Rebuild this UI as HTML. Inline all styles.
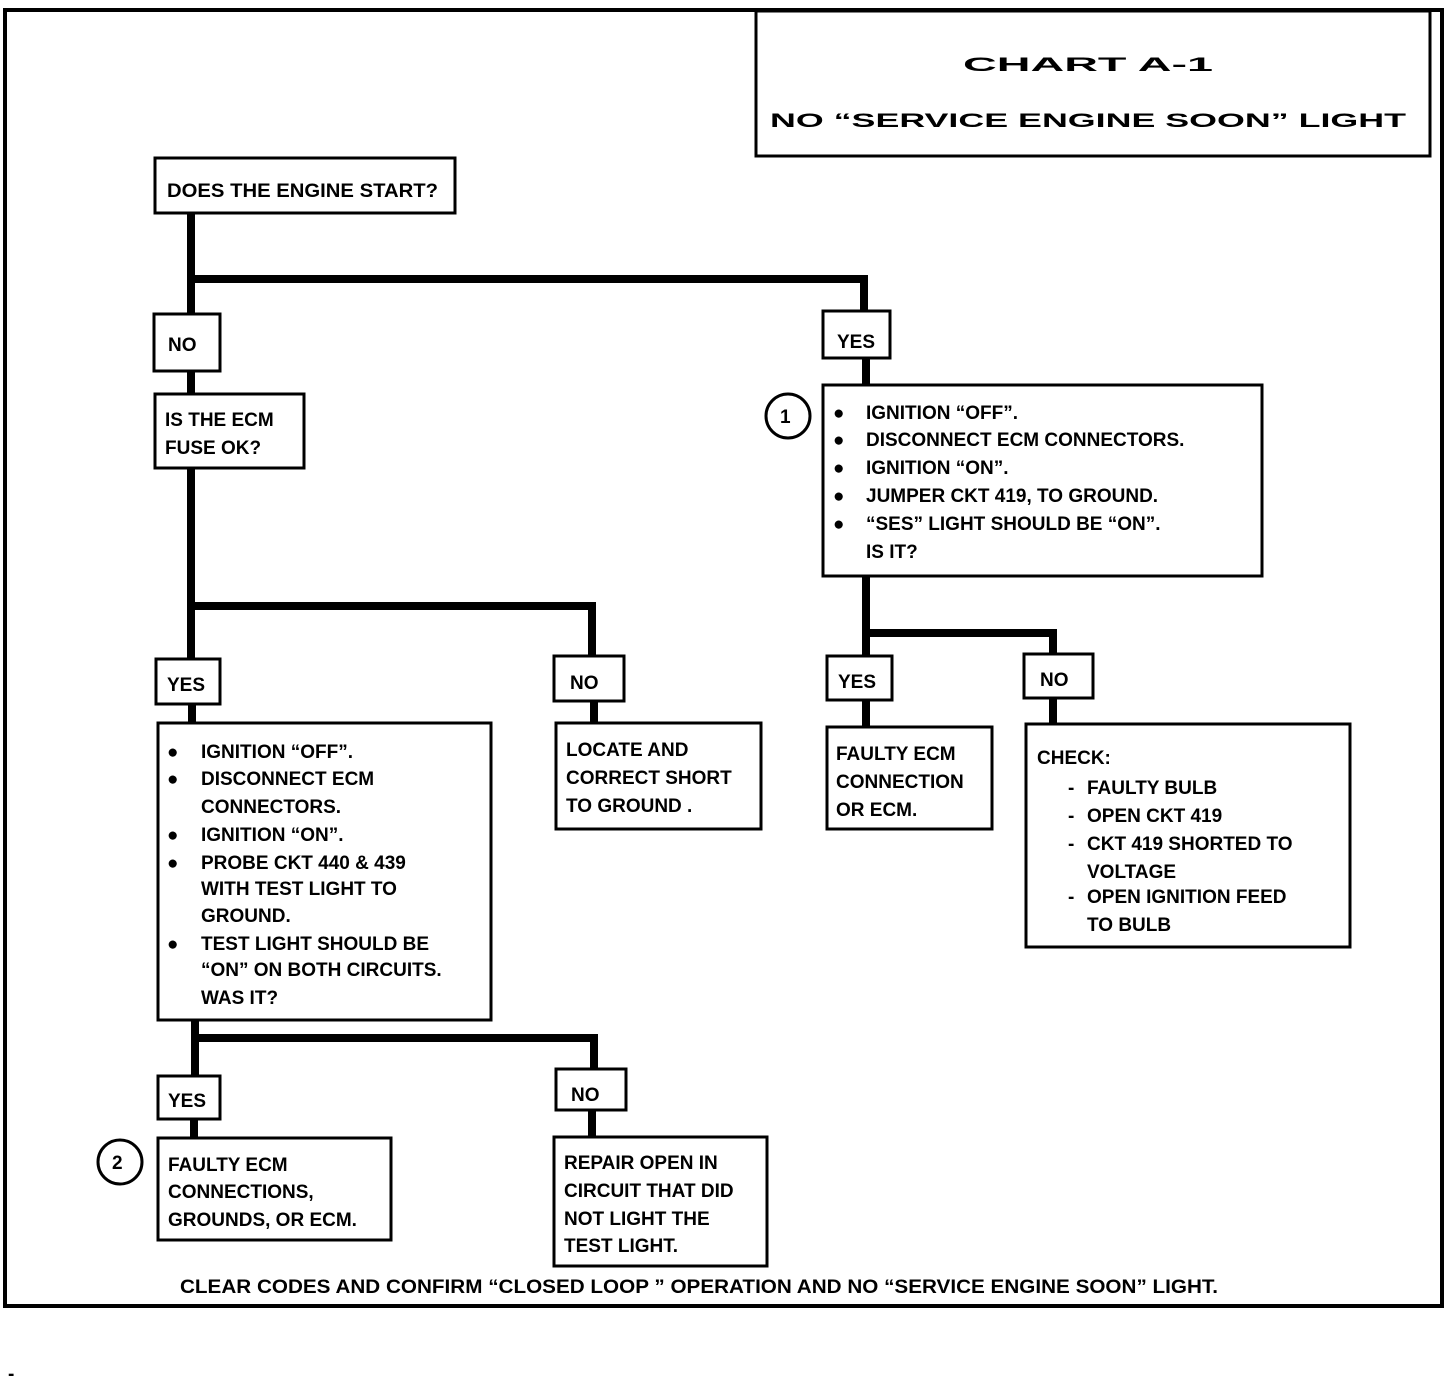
<!DOCTYPE html>
<html><head><meta charset="utf-8"><style>
html,body{margin:0;padding:0;background:#fff;}
svg{display:block;}
text{font-family:"Liberation Sans",sans-serif;font-weight:bold;fill:#000;font-size:19px;}
</style></head><body>
<svg width="1456" height="1378" viewBox="0 0 1456 1378" xmlns="http://www.w3.org/2000/svg">
<g fill="none" stroke="#000">
<rect x="5" y="10" width="1437" height="1296" stroke-width="4"/>
<rect x="756" y="11" width="674" height="145" stroke-width="3"/>
<!-- connectors -->
<g stroke-width="8">
<line x1="191" y1="214" x2="191" y2="314"/>
<line x1="187" y1="279" x2="868" y2="279"/>
<line x1="864" y1="275" x2="864" y2="311"/>
<line x1="191" y1="371" x2="191" y2="394"/>
<line x1="191" y1="468" x2="191" y2="659"/>
<line x1="187" y1="606" x2="596" y2="606"/>
<line x1="592" y1="602" x2="592" y2="656"/>
<line x1="192" y1="704" x2="192" y2="723"/>
<line x1="594" y1="701" x2="594" y2="723"/>
<line x1="195" y1="1020" x2="195" y2="1076"/>
<line x1="191" y1="1038" x2="598" y2="1038"/>
<line x1="594" y1="1034" x2="594" y2="1069"/>
<line x1="194" y1="1119" x2="194" y2="1138"/>
<line x1="592" y1="1110" x2="592" y2="1137"/>
<line x1="866" y1="358" x2="866" y2="385"/>
<line x1="866" y1="576" x2="866" y2="656"/>
<line x1="862" y1="633" x2="1057" y2="633"/>
<line x1="1053" y1="629" x2="1053" y2="654"/>
<line x1="866" y1="700" x2="866" y2="727"/>
<line x1="1053" y1="698" x2="1053" y2="724"/>
</g>
<!-- boxes -->
<g stroke-width="3" fill="#fff">
<rect x="155" y="158" width="300" height="55"/>
<rect x="154" y="314" width="66" height="57"/>
<rect x="155" y="394" width="149" height="74"/>
<rect x="156" y="659" width="64" height="45"/>
<rect x="158" y="723" width="333" height="297"/>
<rect x="554" y="656" width="70" height="45"/>
<rect x="556" y="723" width="205" height="106"/>
<rect x="158" y="1076" width="62" height="43"/>
<rect x="158" y="1138" width="233" height="102"/>
<rect x="556" y="1069" width="70" height="41"/>
<rect x="554" y="1137" width="213" height="129"/>
<rect x="823" y="311" width="67" height="47"/>
<rect x="823" y="385" width="439" height="191"/>
<rect x="827" y="656" width="65" height="44"/>
<rect x="827" y="727" width="165" height="102"/>
<rect x="1024" y="654" width="69" height="44"/>
<rect x="1026" y="724" width="324" height="223"/>
</g>
<circle cx="788" cy="416" r="22" stroke-width="3" fill="#fff"/>
<circle cx="120" cy="1162" r="22" stroke-width="3" fill="#fff"/>
</g>
<text x="963" y="71" font-size="48" textLength="250" lengthAdjust="spacingAndGlyphs">CHART A-1</text>
<text x="770" y="127" font-size="38" textLength="636" lengthAdjust="spacingAndGlyphs">NO “SERVICE ENGINE SOON” LIGHT</text>
<text x="780" y="423" font-size="20">1</text>
<text x="112" y="1169" font-size="20">2</text>

<text x="167" y="197" textLength="271" lengthAdjust="spacingAndGlyphs">DOES THE ENGINE START?</text>
<text x="168" y="351">NO</text>
<text x="165" y="426">IS THE ECM</text>
<text x="165" y="454">FUSE OK?</text>
<text x="167" y="691">YES</text>
<g>
<text x="167" y="758">●</text><text x="201" y="758">IGNITION “OFF”.</text>
<text x="167" y="785">●</text><text x="201" y="785">DISCONNECT ECM</text>
<text x="201" y="813">CONNECTORS.</text>
<text x="167" y="841">●</text><text x="201" y="841">IGNITION “ON”.</text>
<text x="167" y="869">●</text><text x="201" y="869">PROBE CKT 440 &amp; 439</text>
<text x="201" y="895">WITH TEST LIGHT TO</text>
<text x="201" y="922">GROUND.</text>
<text x="167" y="950">●</text><text x="201" y="950">TEST LIGHT  SHOULD BE</text>
<text x="201" y="976">“ON” ON BOTH CIRCUITS.</text>
<text x="201" y="1004">WAS IT?</text>
</g>
<text x="570" y="689">NO</text>
<text x="566" y="756">LOCATE  AND</text>
<text x="566" y="784">CORRECT SHORT</text>
<text x="566" y="812">TO GROUND .</text>
<text x="168" y="1107">YES</text>
<text x="571" y="1101">NO</text>
<text x="168" y="1171">FAULTY ECM</text>
<text x="168" y="1198">CONNECTIONS,</text>
<text x="168" y="1226">GROUNDS, OR ECM.</text>
<text x="564" y="1169">REPAIR OPEN IN</text>
<text x="564" y="1197">CIRCUIT THAT DID</text>
<text x="564" y="1225">NOT LIGHT THE</text>
<text x="564" y="1252">TEST LIGHT.</text>
<text x="837" y="348">YES</text>
<g>
<text x="833" y="419">●</text><text x="866" y="419">IGNITION “OFF”.</text>
<text x="833" y="446">●</text><text x="866" y="446">DISCONNECT ECM CONNECTORS.</text>
<text x="833" y="474">●</text><text x="866" y="474">IGNITION “ON”.</text>
<text x="833" y="502">●</text><text x="866" y="502">JUMPER CKT 419,  TO GROUND.</text>
<text x="833" y="530">●</text><text x="866" y="530">“SES” LIGHT  SHOULD BE “ON”.</text>
<text x="866" y="558">IS IT?</text>
</g>
<text x="838" y="688">YES</text>
<text x="1040" y="686">NO</text>
<text x="836" y="760">FAULTY ECM</text>
<text x="836" y="788">CONNECTION</text>
<text x="836" y="816">OR ECM.</text>
<text x="1037" y="764">CHECK:</text>
<text x="1068" y="794">-</text><text x="1087" y="794">FAULTY BULB</text>
<text x="1068" y="822">-</text><text x="1087" y="822">OPEN CKT 419</text>
<text x="1068" y="850">-</text><text x="1087" y="850">CKT 419 SHORTED TO</text>
<text x="1087" y="878">VOLTAGE</text>
<text x="1068" y="903">-</text><text x="1087" y="903">OPEN IGNITION FEED</text>
<text x="1087" y="931">TO BULB</text>
<text x="180" y="1293" font-size="18" textLength="1038" lengthAdjust="spacingAndGlyphs">CLEAR CODES AND CONFIRM “CLOSED LOOP ” OPERATION AND NO “SERVICE ENGINE SOON” LIGHT.</text>
<text x="8" y="1380" font-size="14">-</text>
</svg>
</body></html>
